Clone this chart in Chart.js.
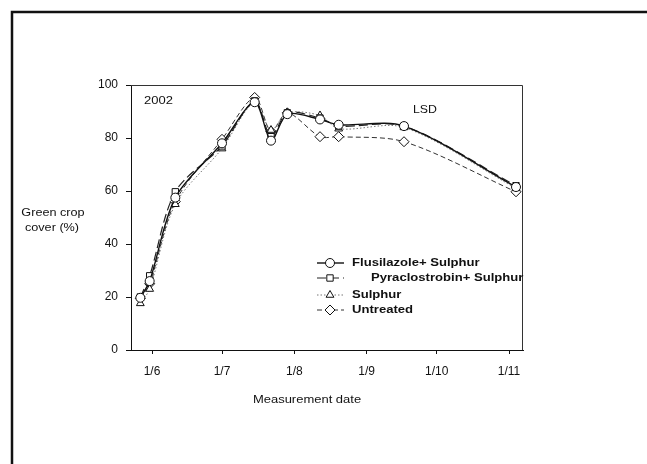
<!DOCTYPE html>
<html>
<head>
<meta charset="utf-8">
<style>
  body { margin: 0; background: #fff; }
  #wrap { width: 647px; height: 464px; }
</style>
<script src="https://cdn.jsdelivr.net/npm/chart.js@4.4.0/dist/chart.umd.min.js"></script>
</head>
<body>
<div id="wrap"><canvas id="coverChart" width="647" height="464"></canvas></div>
<script>
// measurement days (day of year, 2002)
const measureDays = [147, 151, 162, 182, 196, 203, 210, 224, 232, 260, 308];
const monthTicks = [152, 182, 213, 244, 274, 305];
const monthLabels = ['1/6', '1/7', '1/8', '1/9', '1/10', '1/11'];

const seriesNames = ['Flusilazole+ Sulphur', 'Pyraclostrobin+ Sulphur', 'Sulphur', 'Untreated'];
const flusilazole = [19.7, 26, 57.5, 78, 93.5, 79, 89, 87, 85, 84.5, 61.5];
const pyraclostrobin = [20, 28, 59.7, 77, 94, 80.5, 89.5, 87.5, 84.5, 84.5, 62];
const sulphur = [17.6, 23, 55, 76, 93.5, 83, 89.5, 88.5, 83.5, 84, 61];
const untreated = [19.5, 25, 56, 79.5, 95.3, 82.5, 89.5, 80.5, 80.5, 78.6, 59.7];

const FONT = '"Liberation Sans", Arial, sans-serif';

function toPoints(values) {
    return values.map((v, i) => ({ x: measureDays[i], y: v }));
}

function stretchText(ctx, text, x, y, align, sx) {
    ctx.save();
    ctx.translate(x, y);
    ctx.scale(sx, 1);
    ctx.textAlign = align;
    ctx.textBaseline = 'middle';
    ctx.fillText(text, 0, 0);
    ctx.restore();
}

// frame, plot box, free text and the legend inside the plot
const decorPlugin = {
    id: 'decor',
    beforeDraw(chart) {
        const ctx = chart.ctx;
        ctx.save();
        ctx.fillStyle = '#fff';
        ctx.fillRect(0, 0, chart.width, chart.height);
        ctx.strokeStyle = '#111';
        ctx.lineWidth = 2.5;
        ctx.beginPath();
        ctx.moveTo(12, chart.height + 5);
        ctx.lineTo(12, 12);
        ctx.lineTo(chart.width + 5, 12);
        ctx.stroke();
        ctx.restore();
    },
    afterDraw(chart) {
        const ctx = chart.ctx;
        const a = chart.chartArea;
        ctx.save();
        ctx.strokeStyle = '#333';
        ctx.lineWidth = 1;
        ctx.beginPath();
        ctx.moveTo(a.left, a.top + 0.5);
        ctx.lineTo(a.right - 0.5, a.top + 0.5);
        ctx.lineTo(a.right - 0.5, a.bottom);
        ctx.stroke();

        ctx.fillStyle = '#111';
        ctx.font = '11px ' + FONT;
        stretchText(ctx, 'Green crop', 53, 213, 'center', 1.15);
        stretchText(ctx, 'cover (%)', 52, 228, 'center', 1.15);
        stretchText(ctx, 'Measurement date', 307, 400, 'center', 1.18);
        stretchText(ctx, '2002', 144, 101, 'left', 1.18);
        stretchText(ctx, 'LSD', 413, 110, 'left', 1.12);

        // legend
        const rowY = [263, 278, 295, 310];
        const textX = [352, 371, 352, 352];
        ctx.font = 'bold 11px ' + FONT;
        chart.data.datasets.forEach((ds, i) => {
            const y = rowY[i];
            ctx.save();
            ctx.strokeStyle = ds.borderColor;
            ctx.lineWidth = ds.borderWidth;
            ctx.setLineDash(ds.borderDash || []);
            ctx.beginPath();
            ctx.moveTo(317, y);
            ctx.lineTo(344, y);
            ctx.stroke();
            ctx.setLineDash([]);
            ctx.fillStyle = '#fff';
            ctx.strokeStyle = '#111';
            ctx.lineWidth = 1;
            Chart.helpers.drawPoint(ctx, {
                pointStyle: ds.pointStyle,
                radius: ds.pointRadius,
                rotation: 0,
                borderWidth: 1
            }, 330, y);
            ctx.restore();
            ctx.fillStyle = '#111';
            stretchText(ctx, seriesNames[i], textX[i], y, 'left', 1.19);
        });
        ctx.restore();
    }
};

function makeDataset(i, values, style, dash, color, width) {
    return {
        label: seriesNames[i],
        data: toPoints(values),
        borderColor: color,
        borderWidth: width,
        borderDash: dash,
        tension: 0.3,
        pointStyle: style,
        pointRadius: style === 'rectRot' ? 5 : 4.5,
        pointBackgroundColor: '#fff',
        pointBorderColor: '#111',
        pointBorderWidth: 1,
        fill: false
    };
}

const ctx = document.getElementById('coverChart').getContext('2d');
new Chart(ctx, {
    type: 'line',
    data: {
        datasets: [
            makeDataset(0, flusilazole, 'circle', [], '#111', 1.4),
            makeDataset(1, pyraclostrobin, 'rect', [9, 4], '#222', 1.2),
            makeDataset(2, sulphur, 'triangle', [1.5, 2], '#777', 1),
            makeDataset(3, untreated, 'rectRot', [5, 3], '#333', 1)
        ]
    },
    options: {
        responsive: false,
        animation: false,
        events: [],
        layout: { padding: { left: 91, top: 85, right: 124, bottom: 84 } },
        plugins: {
            legend: { display: false },
            tooltip: { enabled: false }
        },
        scales: {
            x: {
                type: 'linear',
                min: 143,
                max: 311,
                afterBuildTicks: function(scale) {
                    scale.ticks = monthTicks.map(v => ({ value: v }));
                },
                afterFit: function(scale) { scale.height = 30; },
                ticks: {
                    autoSkip: false,
                    maxRotation: 0,
                    padding: 10,
                    color: '#111',
                    font: { family: FONT, size: 12 },
                    callback: function(value) {
                        const idx = monthTicks.indexOf(value);
                        return idx >= 0 ? monthLabels[idx] : '';
                    }
                },
                grid: { drawOnChartArea: false, tickLength: 4, color: '#111' },
                border: { color: '#111', width: 1 }
            },
            y: {
                min: 0,
                max: 100,
                afterFit: function(scale) { scale.width = 40; },
                ticks: {
                    stepSize: 20,
                    padding: 8,
                    color: '#111',
                    font: { family: FONT, size: 12 }
                },
                grid: { drawOnChartArea: false, tickLength: 5, color: '#111' },
                border: { color: '#111', width: 1 }
            }
        }
    },
    plugins: [decorPlugin]
});
</script>
</body>
</html>
